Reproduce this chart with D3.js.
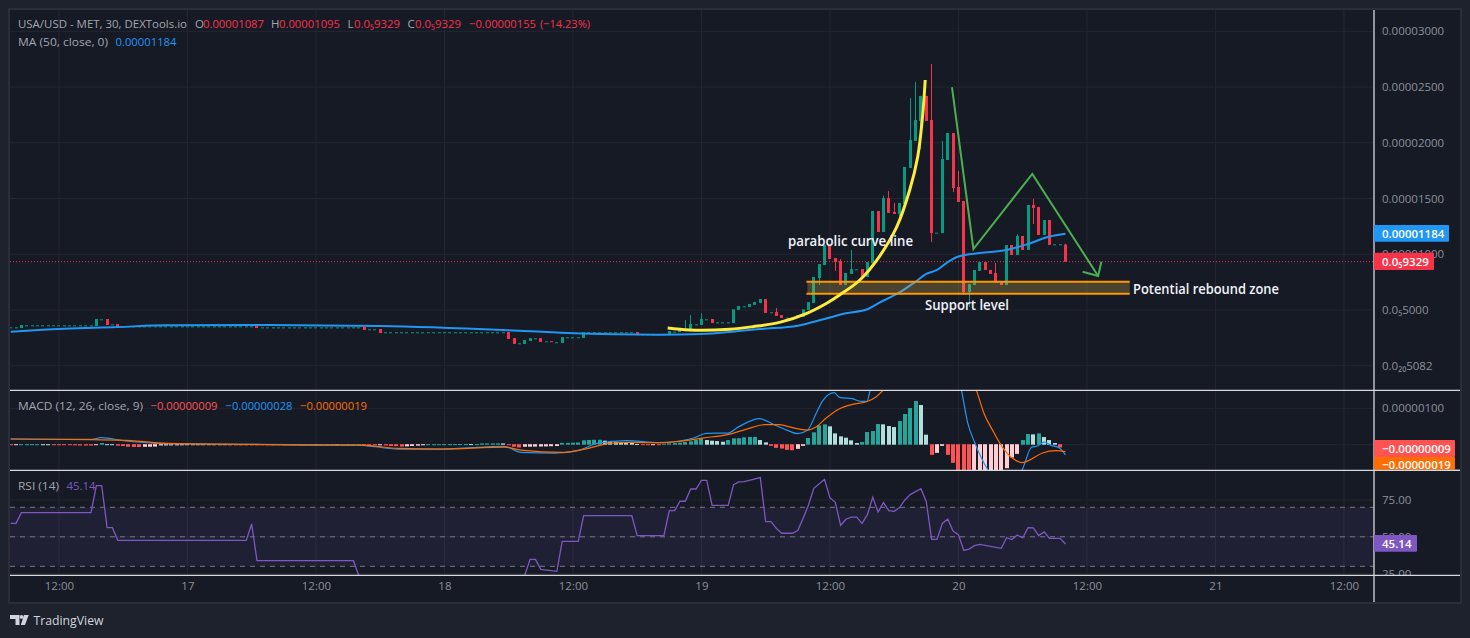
<!DOCTYPE html>
<html>
<head>
<meta charset="utf-8">
<script src="https://cdn.jsdelivr.net/npm/d3@7"></script>
<style>
  html, body { margin: 0; background: #1e222d; overflow: hidden; }
  text { font-family: "Open Sans", "Noto Sans", sans-serif; }
</style>
</head>
<body>
<div class="canvas"></div>
<script>
// prices are in millionths (0.00001087 -> 10.87), one entry per 30 minute bar
const opens = [
  3.44, 3.44, 3.38,
  3.62, 3.62, 3.62, 3.62, 3.62, 3.62, 3.62, 3.62, 3.62, 3.62, 3.62, 3.62, 3.62,
  3.56, 4.16, 4.19, 3.71, 3.74,
  3.53, 3.53, 3.53, 3.53, 3.53, 3.53, 3.53, 3.53, 3.53, 3.53, 3.53, 3.53, 3.53, 3.53, 3.53, 3.53, 3.53, 3.53, 3.53, 3.53, 3.53, 3.53, 3.53, 3.53, 3.53,
  3.62,
  3.44, 3.44, 3.44, 3.44, 3.44, 3.44, 3.44, 3.44, 3.44, 3.44, 3.44, 3.44, 3.44, 3.44, 3.44, 3.44, 3.44, 3.44, 3.44,
  3.47, 3.27, 3.27, 3.29,
  3.00, 3.00, 3.00, 3.00, 3.00, 3.00, 3.00, 3.00, 3.00, 3.00, 3.00, 3.00, 3.00, 3.00, 3.00, 3.00, 3.00, 3.00, 3.00, 3.00, 3.00, 3.00, 3.00,
  3.02, 2.48, 2.01, 1.95, 2.22, 2.46, 2.48, 2.19, 2.20, 2.10, 2.04, 2.55, 2.55, 2.55, 2.48,
  3.00, 3.00, 3.00, 3.00, 3.00, 3.00, 3.00, 3.00, 3.00,
  3.02, 2.82, 2.82, 2.82, 2.82, 2.82,
  2.75, 3.05, 3.02, 3.27, 3.20, 3.71, 3.65, 4.16, 4.19, 3.89, 3.89, 3.89,
  3.83, 5.00, 5.33, 5.27, 5.45, 5.62, 5.98, 4.79, 4.82, 4.55, 4.31, 4.31,
  4.28, 4.37, 5.00, 5.62, 7.87, 9.03, 10.83, 9.66, 9.39, 7.24, 8.23, 8.65, 8.67, 7.96, 9.21,
  13.88, 11.99, 15.04, 13.79, 13.61, 14.51, 17.74, 20.16, 21.95, 24.20, 22.04, 11.93, 11.90, 18.45, 20.88, 16.03, 14.78,
  6.61, 7.24, 8.50, 9.30, 8.59, 8.32, 7.60, 7.24, 10.83, 9.93, 11.64, 10.38, 14.42, 14.24, 11.73, 13.07,
  10.89, 10.89, 10.87
];
const closes = [
  3.44, 3.44, 3.65,
  3.62, 3.62, 3.62, 3.62, 3.62, 3.62, 3.62, 3.62, 3.62, 3.62, 3.62, 3.62, 3.62,
  4.19, 4.16, 3.65, 3.71, 3.47,
  3.53, 3.53, 3.53, 3.53, 3.53, 3.53, 3.53, 3.53, 3.53, 3.53, 3.53, 3.53, 3.53, 3.53, 3.53, 3.53, 3.53, 3.53, 3.53, 3.53, 3.53, 3.53, 3.53, 3.53, 3.53,
  3.38,
  3.44, 3.44, 3.44, 3.44, 3.44, 3.44, 3.44, 3.44, 3.44, 3.44, 3.44, 3.44, 3.44, 3.44, 3.44, 3.44, 3.44, 3.44, 3.44,
  3.20, 3.27, 3.27, 2.93,
  3.00, 3.00, 3.00, 3.00, 3.00, 3.00, 3.00, 3.00, 3.00, 3.00, 3.00, 3.00, 3.00, 3.00, 3.00, 3.00, 3.00, 3.00, 3.00, 3.00, 3.00, 3.00, 3.00,
  2.40, 1.95, 2.01, 2.31, 2.48, 2.46, 2.13, 2.19, 2.19, 2.10, 2.57, 2.55, 2.55, 2.55, 3.00,
  3.00, 3.00, 3.00, 3.00, 3.00, 3.00, 3.00, 3.00, 3.00,
  2.75, 2.82, 2.82, 2.82, 2.82, 2.82,
  3.11, 3.05, 3.27, 3.27, 3.74, 3.71, 4.19, 4.16, 3.83, 3.89, 3.89, 3.89,
  5.06, 5.36, 5.33, 5.54, 5.71, 5.98, 4.73, 4.79, 4.46, 4.28, 4.31, 4.31,
  4.52, 5.06, 5.71, 7.96, 9.12, 10.83, 9.57, 9.30, 7.24, 8.32, 8.67, 8.65, 7.96, 9.30, 13.88,
  11.99, 15.04, 13.70, 13.61, 14.60, 17.83, 20.25, 22.04, 24.20, 21.95, 11.90, 11.93, 18.54, 20.88, 15.94, 14.69, 6.61,
  7.33, 8.59, 9.30, 8.59, 8.23, 7.51, 7.24, 10.83, 9.93, 11.64, 10.38, 14.42, 14.15, 11.73, 13.07, 10.83,
  10.89, 10.89, 9.329
];
// only the bars whose wick sticks out past the body
const wickBars  = [126, 127, 129, 143, 151, 154, 155, 157, 163, 164, 165, 166, 168, 169, 170, 172, 174, 176, 177, 178, 179, 184, 188, 191, 197];
const wickHighs = [4.10, 4.55, 4.70, 5.18, 9.12, 9.66, 9.57, 10.38, 15.25, 15.67, 14.60, 14.60, 24.02, 25.45, 24.20, 27.07, 20.16, 20.88, 17.47, 14.78, 7.33, 9.21, 11.79, 14.95, 10.95];
const wickLows  = [3.27, 3.20, 3.65, 4.46, 7.24, 8.50, 7.24, 8.23, 11.99, 13.70, 13.61, 13.43, 17.74, 20.16, 19.44, 11.10, 11.90, 15.58, 14.69, 6.34, 5.27, 7.51, 9.93, 12.71, 9.329];

const maBars = [0, 6, 20, 29, 45, 69, 92, 104, 121, 129, 136, 140, 147, 152, 156, 160, 162, 166, 169, 171, 173, 175, 177, 181, 186, 190, 194, 197];
const maValues = [3.05, 3.23, 3.47, 3.62, 3.65, 3.56, 3.20, 2.93, 2.78, 2.84, 3.11, 3.29, 3.59, 4.19, 4.70, 5.06, 5.60, 6.57, 7.54, 8.23, 8.59, 9.30, 9.80, 10.11, 10.38, 10.92, 11.59, 11.84];

// hand drawn lines on the chart
const parabolaBars = [122.7, 126.8, 134.3, 138.6, 143.6, 148.7, 152.4, 154.8, 158.6, 162.3, 165.5, 167.9, 169.4, 170.3, 170.8];
const parabolaValues = [3.38, 3.20, 3.27, 3.50, 3.89, 4.70, 5.60, 6.34, 7.69, 9.84, 12.47, 15.76, 18.75, 22.34, 25.63];
const zigzagBars = [175.8, 179.8, 190.8, 203.1];
const zigzagValues = [24.98, 10.47, 17.2, 8.05];
const arrowBars = [200.2, 203.1, 203.7];
const arrowValues = [8.43, 8.05, 9.33];
const zoneBars = [148.8, 209];
const zoneValues = [7.54, 6.46];

// macd pane, values in 0.00000001
const macdHist = [
  -2.5, -2.4, 0.8, 0.8, 0.9, 1, 0.8, 0.6, -0.8, -1, -1.2, -1.5, -3, -3.5, -3.6, -3.7, -1, 4.5, 1.5, 1,
  -4, -5, -7, -7.5, -7.8, -7.2, -7, -6.5, -3.5, -3.4, -3.3, -3.2, -3, -2.8, -2.6, -2.5, -0.5, -0.4, -0.4, -0.3,
  -0.3, -0.3, -0.3, -0.3, -0.3, -0.3, -0.3, -0.8, -0.9, -0.8, 0.5, 0.5, 0.5, 0.5, 0.5, 0.6, 0.6, 0.5, 0.5, 0.5,
  0.5, 0.4, 0.4, 0.4, 0.4, 0.4, -2, -2.5, -3, -3, -3.5, -5, -5.5, -6.5, -6, -5, -4, -3, 1, 1.2,
  1.4, 1.5, 1.6, 1.6, 1.8, 1.8, 1.7, 1.7, 3.5, 3.5, 3.6, 3.6, 3.5, -3, -7, -9, -7, -6.8, -6.6, -6.4, -6, -5.5, -5, 5,
  5, 5.5, 6, 12, 13, 13.5, 13.6, 11, 8, 7.5, 7, 6, 5, 2, -2, -2.2, -1.5, -1.8,
  2.7, 3.7, 4.6, 5.5, 7.3, 9.2, 12.8, 16.5, 12.8, 11, 10, 8.2, 12.8, 17.4, 17.8, 20.2, 21.1, 21.3, 12.8, 6.4,
  -4.6, -10.1, -11.9, -15.6, -16.5, -12.8, -4.6, 18.3, 33.9, 53.1, 55.9, 50.4, 31.1, 22.9, 19.2, 11.9, 4.6, 7.3, 34.8, 37.6,
  56.8, 55.9, 51.3, 48.5, 65, 84.3, 100.8, 120, 109, 27.5, -29.3, -23.8, -4.6, -29.3, -51.3, -95, -110, -118, -112, -105,
  -100, -92, -85, -80, -66, -36.6, -26.6, 12.8, 29.3, 28.4, 31.1, 21, 12.8, 4.6, -9
];
const macdBars = [0, 15.2, 16.8, 21.5, 29.3, 45, 64.7, 72.5, 80.4, 92.2, 95.3, 101.6, 106.3, 109.5, 115, 121.1, 124.9, 127.7, 129.9, 133.9, 136.1, 139.8, 142.6, 145.1, 147, 148.8, 150.4, 151.7, 153.8, 154.8, 157.2, 158.8, 159.9, 160.5, 164, 168, 171, 174, 176, 177.6, 178.7, 180, 181.2, 182.6, 185, 188.8, 190.7, 191.8, 193, 194.3, 195.8, 197];
const macdValues = [15.6, 14.7, 19.2, 10.1, 2.7, 0.9, -0.9, -11.9, -11.9, -4.6, -21, -22.9, -14.7, 3.7, 11, 5.5, 10.1, 19.2, 31.1, 32, 50.4, 71.4, 54.9, 39.4, 30.2, 39.4, 85.2, 121.8, 142.9, 130, 126.4, 119, 119, 148, 240, 380, 480, 350, 250, 148, 62.3, 7.3, -33.9, -71.4, -110, -71.4, -6.4, -3.7, 7.3, -1.8, -8.2, -28];
const signalBars = [0, 15.2, 20.5, 29.3, 45, 56.8, 65.5, 72.5, 80.4, 92.2, 95.3, 103.2, 107.9, 111.8, 115.7, 121.1, 124.9, 129.2, 133.9, 137.3, 140.8, 143.6, 146, 148.8, 150.4, 152.3, 154.8, 157.2, 159.7, 161.6, 162.8, 167, 172, 176, 180.4, 181.8, 183.4, 185.2, 187.4, 188.9, 190.2, 192.7, 195.2, 197];
const signalValues = [15.6, 13.7, 12.8, 3.7, 0.9, -0.9, -0.9, -10.1, -11.9, -6.4, -14.7, -21, -10, 3.7, 6.4, 5.5, 9.2, 18.3, 27.5, 42.1, 54.9, 54.9, 46.7, 40.3, 48.5, 73.3, 98.9, 110.8, 117.2, 131, 147.4, 220, 320, 280, 148, 85.2, 39.4, -6.4, -40.3, -49.5, -43, -22.9, -16.5, -19];

// rsi pane, the line leaves the pane between bars 65 and 96
const rsiBars = [0, 1, 2, 15, 16, 17, 18, 19, 20, 44, 45, 46, 64, 65, 68, 93, 96, 97, 98, 99, 102, 103, 106, 107, 116, 117, 122, 123, 124, 125, 126, 127, 128, 129, 130, 131, 134, 135, 136, 137, 140, 141, 142, 143, 144, 146, 147, 148, 149, 150, 152, 153, 154, 155, 156, 157, 158, 159, 160, 161, 162, 163, 164, 165, 166, 167, 168, 170, 171, 172, 173, 174, 175, 176, 177, 178, 179, 180, 181, 185, 186, 187, 188, 189, 190, 191, 192, 193, 194, 196, 197];
const rsiValues = [59.1, 59.1, 66.4, 66.4, 84.7, 84.7, 56.2, 56.2, 47.6, 47.6, 58.7, 33.8, 33.8, 23.9, 16, 14, 23.9, 34.7, 34.7, 27.9, 26.6, 46.9, 46.9, 64.3, 64.3, 50.8, 50.8, 67.7, 67.7, 74.1, 74.1, 82.4, 82.4, 88.3, 88.3, 71.3, 71.3, 85.4, 87.2, 87.4, 90.1, 60.3, 60.3, 55.7, 52.4, 52.4, 54.2, 62.5, 71.6, 82.9, 89, 76.5, 73.4, 57.8, 61.9, 63.4, 63.4, 59.1, 65, 76.8, 66.8, 73.2, 67.7, 67.3, 69.8, 75, 78.6, 82.6, 73.8, 48.3, 48.3, 59.1, 62.1, 53.9, 51.4, 40.8, 41.7, 44, 44.9, 42.2, 49.4, 48.1, 51.2, 49.2, 56.2, 56, 50.8, 53.3, 49, 49, 45.14];

// axis ticks
const priceTicks = [30, 25, 20, 15, 10, 5, 0];
const priceLabels = ['0.00003000', '0.00002500', '0.00002000', '0.00001500', '0.00001000', '0.0₅5000', '0.0₂₀5082'];
const macdTicks = [100];
const macdLabels = ['0.00000100'];
const rsiTicks = [75, 50, 25];
const rsiLabels = ['75.00', '50.00', '25.00'];
const timeBars = [9, 33, 57, 81, 105, 129, 153, 177, 201, 225, 249];
const timeLabels = ['12:00', '17', '12:00', '18', '12:00', '19', '12:00', '20', '12:00', '21', '12:00'];

const colors = {
  up: '#089981', down: '#f7334a', ma: '#2196f3', label: '#8d9099', title: '#a3a6af',
  grid: '#242732', sep: '#d6d8de', macdUp: '#26a69a', macdUpLight: '#b2dfdb',
  macdDown: '#ff5252', macdDownLight: '#ffcdd2', signal: '#ff6d00', rsi: '#7e57c2'
};

const dims = { width: 1470, height: 638, left: 10, right: 1374, edge: 1460, top: 10, bottom: 602 };
const panes = { mainBottom: 390.3, macdBottom: 470.3, rsiBottom: 575.3 };

const svg = d3.select('.canvas')
    .append('svg')
    .attr('width', dims.width)
    .attr('height', dims.height)
    .style('display', 'block');

const x = d3.scaleLinear().domain([0, 197]).range([10.7, 1065.5]);
const y = d3.scaleLinear().domain([0, 30]).range([365.7, 31.3]);
const yMacd = d3.scaleLinear().domain([0, 100]).range([444.7, 408.3]);
const yRsi = d3.scaleLinear().domain([30, 70]).range([566.3, 507.3]);

// background
svg.append('rect')
    .attr('x', dims.left - 1).attr('y', dims.top - 1)
    .attr('width', dims.edge - dims.left + 2).attr('height', dims.bottom - dims.top + 2)
    .attr('fill', '#161a25')
    .attr('stroke', '#2a2e39')
    .attr('stroke-width', 2);

const addClip = (id, top, bottom) => {
    svg.append('clipPath').attr('id', id).append('rect')
        .attr('x', dims.left).attr('y', top)
        .attr('width', dims.edge - dims.left).attr('height', bottom - top);
};
addClip('clipMain', dims.top, panes.mainBottom);
addClip('clipMacd', panes.mainBottom, panes.macdBottom);
addClip('clipRsi', panes.macdBottom, panes.rsiBottom);

// grid
const grid = svg.append('g').attr('stroke', colors.grid).attr('stroke-width', 1);
grid.selectAll('.vgrid')
    .data(timeBars)
    .join('line')
    .attr('class', 'vgrid')
    .attr('x1', d => x(d)).attr('x2', d => x(d))
    .attr('y1', dims.top).attr('y2', panes.rsiBottom);
const hGrid = (ticks, scale) => {
    grid.append('g').selectAll('line')
        .data(ticks)
        .join('line')
        .attr('x1', dims.left).attr('x2', dims.right)
        .attr('y1', d => scale(d)).attr('y2', d => scale(d));
};
hGrid(priceTicks, y);
hGrid([0, 100], yMacd);
hGrid(rsiTicks, yRsi);

// candles
const main = svg.append('g').attr('clip-path', 'url(#clipMain)');
const bars = d3.range(opens.length);
const isUp = i => closes[i] >= opens[i];

main.append('g').selectAll('line')
    .data(wickBars)
    .join('line')
    .attr('x1', d => Math.floor(x(d)) + 0.5).attr('x2', d => Math.floor(x(d)) + 0.5)
    .attr('y1', (d, i) => y(wickHighs[i]))
    .attr('y2', (d, i) => y(wickLows[i]))
    .attr('stroke', d => isUp(d) ? colors.up : colors.down)
    .attr('stroke-width', 1);

main.append('g').selectAll('rect')
    .data(bars)
    .join('rect')
    .attr('x', d => Math.floor(x(d)) - 1)
    .attr('width', 3)
    .attr('y', d => y(Math.max(opens[d], closes[d])))
    .attr('height', d => Math.max(1, y(Math.min(opens[d], closes[d])) - y(Math.max(opens[d], closes[d]))))
    .attr('fill', d => isUp(d) ? colors.up : colors.down);

// last price line
main.append('line')
    .attr('x1', dims.left).attr('x2', dims.right)
    .attr('y1', y(9.329)).attr('y2', y(9.329))
    .attr('stroke', colors.down)
    .attr('stroke-dasharray', '1 2');

// moving average
const lineOf = (bs, vs, scale, curve) => d3.line()
    .x(i => x(bs[i]))
    .y(i => scale(vs[i]))
    .curve(curve)(d3.range(bs.length));

main.append('path')
    .attr('d', lineOf(maBars, maValues, y, d3.curveMonotoneX))
    .attr('fill', 'none')
    .attr('stroke', colors.ma)
    .attr('stroke-width', 2);

// drawings
const zone = main.append('g');
zone.append('rect')
    .attr('x', x(zoneBars[0])).attr('width', x(zoneBars[1]) - x(zoneBars[0]))
    .attr('y', y(zoneValues[0])).attr('height', y(zoneValues[1]) - y(zoneValues[0]))
    .attr('fill', 'rgba(230,190,81,0.25)');
zone.selectAll('line')
    .data(zoneValues)
    .join('line')
    .attr('x1', x(zoneBars[0]) - 1).attr('x2', x(zoneBars[1]))
    .attr('y1', d => y(d)).attr('y2', d => y(d))
    .attr('stroke', '#ff9800')
    .attr('stroke-width', 2);

main.append('path')
    .attr('d', lineOf(parabolaBars, parabolaValues, y, d3.curveCatmullRom))
    .attr('fill', 'none')
    .attr('stroke', '#ffeb3b')
    .attr('stroke-width', 3);

[[zigzagBars, zigzagValues], [arrowBars, arrowValues]].forEach(([bs, vs]) => {
    main.append('path')
        .attr('d', lineOf(bs, vs, y, d3.curveLinear))
        .attr('fill', 'none')
        .attr('stroke', '#4caf50')
        .attr('stroke-width', 2);
});

const noteText = (txt, tx, ty, w) => {
    svg.append('text')
        .attr('x', tx).attr('y', ty)
        .attr('dy', '0.35em')
        .attr('fill', '#f0f3fa')
        .attr('font-size', 13.5)
        .attr('font-weight', 600)
        .attr('textLength', w)
        .attr('lengthAdjust', 'spacingAndGlyphs')
        .text(txt);
};
noteText('parabolic curve line', 788, 241, 125);
noteText('Support level', 925, 305, 84);
noteText('Potential rebound zone', 1133, 289, 146);

// macd pane
const macd = svg.append('g').attr('clip-path', 'url(#clipMacd)');
macd.append('g').selectAll('rect')
    .data(macdHist.map((v, i) => ({ v, i })))
    .join('rect')
    .attr('x', d => Math.round(x(d.i)) - 2)
    .attr('width', 4)
    .attr('y', d => Math.min(yMacd(d.v), yMacd(0) - 0.5))
    .attr('height', d => Math.max(1, Math.abs(yMacd(d.v) - yMacd(0))))
    .attr('fill', d => {
        const prev = d.i > 0 ? macdHist[d.i - 1] : 0;
        if (d.v >= 0) return d.v >= prev ? colors.macdUp : colors.macdUpLight;
        return d.v < prev ? colors.macdDown : colors.macdDownLight;
    });
macd.append('path')
    .attr('d', lineOf(macdBars, macdValues, yMacd, d3.curveMonotoneX))
    .attr('fill', 'none').attr('stroke', colors.ma).attr('stroke-width', 1.2);
macd.append('path')
    .attr('d', lineOf(signalBars, signalValues, yMacd, d3.curveMonotoneX))
    .attr('fill', 'none').attr('stroke', colors.signal).attr('stroke-width', 1.2);

// rsi pane
const rsi = svg.append('g').attr('clip-path', 'url(#clipRsi)');
rsi.append('rect')
    .attr('x', dims.left).attr('width', dims.right - dims.left)
    .attr('y', yRsi(70)).attr('height', yRsi(30) - yRsi(70))
    .attr('fill', 'rgba(126,87,194,0.1)');
rsi.selectAll('.band')
    .data([70, 50, 30])
    .join('line')
    .attr('class', 'band')
    .attr('x1', dims.left).attr('x2', dims.right)
    .attr('y1', d => yRsi(d)).attr('y2', d => yRsi(d))
    .attr('stroke', '#787b86')
    .attr('stroke-dasharray', '5 5');
rsi.append('path')
    .attr('d', lineOf(rsiBars, rsiValues, yRsi, d3.curveLinear))
    .attr('fill', 'none').attr('stroke', colors.rsi).attr('stroke-width', 1.3);

// axes
const styleAxis = g => {
    g.select('.domain').remove();
    g.selectAll('text').attr('fill', colors.label).attr('font-size', 11.5).attr('font-family', '"Open Sans", sans-serif');
};
const rightAxis = (scale, ticks, labels, parent) => {
    parent.append('g')
        .attr('transform', `translate(${dims.right},0)`)
        .call(d3.axisRight(scale).tickValues(ticks).tickFormat((d, i) => labels[i]).tickSize(0).tickPadding(8))
        .call(styleAxis);
};
rightAxis(y, priceTicks, priceLabels, svg);
rightAxis(yMacd, macdTicks, macdLabels, svg);
svg.append('clipPath').attr('id', 'clipRsiAxis').append('rect')
    .attr('x', dims.right).attr('y', panes.macdBottom).attr('width', 90).attr('height', panes.rsiBottom - panes.macdBottom);
rightAxis(yRsi, rsiTicks, rsiLabels, svg.append('g').attr('clip-path', 'url(#clipRsiAxis)'));

svg.append('g')
    .attr('transform', `translate(0,${panes.rsiBottom + 4})`)
    .call(d3.axisBottom(x).tickValues(timeBars).tickFormat((d, i) => timeLabels[i]).tickSize(0).tickPadding(3))
    .call(styleAxis);

// pane separators
const seps = svg.append('g').attr('stroke', colors.sep).attr('stroke-width', 1.3);
[panes.mainBottom, panes.macdBottom, panes.rsiBottom].forEach(py => {
    seps.append('line').attr('x1', dims.left).attr('x2', dims.edge).attr('y1', py).attr('y2', py);
});
seps.append('line').attr('x1', dims.right).attr('x2', dims.right).attr('y1', dims.top).attr('y2', dims.bottom);

// value boxes on the price scale
const valueBox = (txt, top, bottom, w, fill, textY) => {
    svg.append('rect')
        .attr('x', dims.right).attr('y', top)
        .attr('width', w).attr('height', bottom - top)
        .attr('fill', fill).attr('rx', 1);
    svg.append('text')
        .attr('x', dims.right + 8).attr('y', textY)
        .attr('dy', '0.35em')
        .attr('fill', '#fff').attr('font-size', 11.5).attr('font-weight', 600)
        .text(txt);
};
valueBox('0.00001184', 225, 241.7, 75, colors.ma, 233.5);
valueBox('0.0₅9329', 252.7, 270, 60, '#f7334a', 261.5);
valueBox('−0.00000019', 457, panes.macdBottom - 0.6, 81, colors.signal, 465);
valueBox('−0.00000009', 440, 457, 81, colors.macdDown, 448.5);
valueBox('45.14', 535, 551.7, 43, colors.rsi, 543.5);
svg.append('line')
    .attr('x1', dims.right).attr('x2', 1460).attr('y1', panes.macdBottom).attr('y2', panes.macdBottom)
    .attr('stroke', colors.sep).attr('stroke-width', 1.3);

// legends, each item is text, left edge, colour, width
const legend = (items, ly) => {
    items.forEach(([txt, lx, fill, w]) => {
        const t = svg.append('text')
            .attr('x', lx).attr('y', ly)
            .attr('dy', '0.35em')
            .attr('fill', fill)
            .attr('font-size', 11.5)
            .text(txt);
        if (w) t.attr('textLength', w).attr('lengthAdjust', 'spacingAndGlyphs');
    });
};
legend([
    ['USA/USD - MET, 30, DEXTools.io', 18, colors.title, 169],
    ['O', 195, colors.title], ['0.00001087', 203, colors.down, 61],
    ['H', 271, colors.title], ['0.00001095', 279, colors.down, 61],
    ['L', 347.5, colors.title], ['0.0₅9329', 354, colors.down, 46],
    ['C', 407.5, colors.title], ['0.0₅9329', 415, colors.down, 46],
    ['−0.00000155', 469, colors.down, 67], ['(−14.23%)', 540, colors.down, 50]
], 24);
legend([['MA (50, close, 0)', 18, colors.title, 90], ['0.00001184', 115.5, colors.ma, 61]], 42);
legend([
    ['MACD (12, 26, close, 9)', 18, colors.title, 125],
    ['−0.00000009', 150.5, colors.macdDown, 67],
    ['−0.00000028', 225.5, colors.ma, 67],
    ['−0.00000019', 300, colors.signal, 67]
], 405.5);
legend([['RSI (14)', 18, colors.title, 41], ['45.14', 66.5, colors.rsi, 29]], 485.5);

// tradingview mark
svg.append('path')
    .attr('d', 'M10 615H19.5V625H15.5V619H10ZM24 615H28.7L25 625H20.8Z')
    .attr('fill', '#d1d4dc');
svg.append('circle').attr('cx', 21.6).attr('cy', 616.9).attr('r', 1.9).attr('fill', '#d1d4dc');
svg.append('text')
    .attr('x', 33.5).attr('y', 620.3)
    .attr('dy', '0.35em')
    .attr('fill', '#d1d4dc')
    .attr('font-size', 13)
    .attr('textLength', 70)
    .attr('lengthAdjust', 'spacingAndGlyphs')
    .text('TradingView');
</script>
</body>
</html>
